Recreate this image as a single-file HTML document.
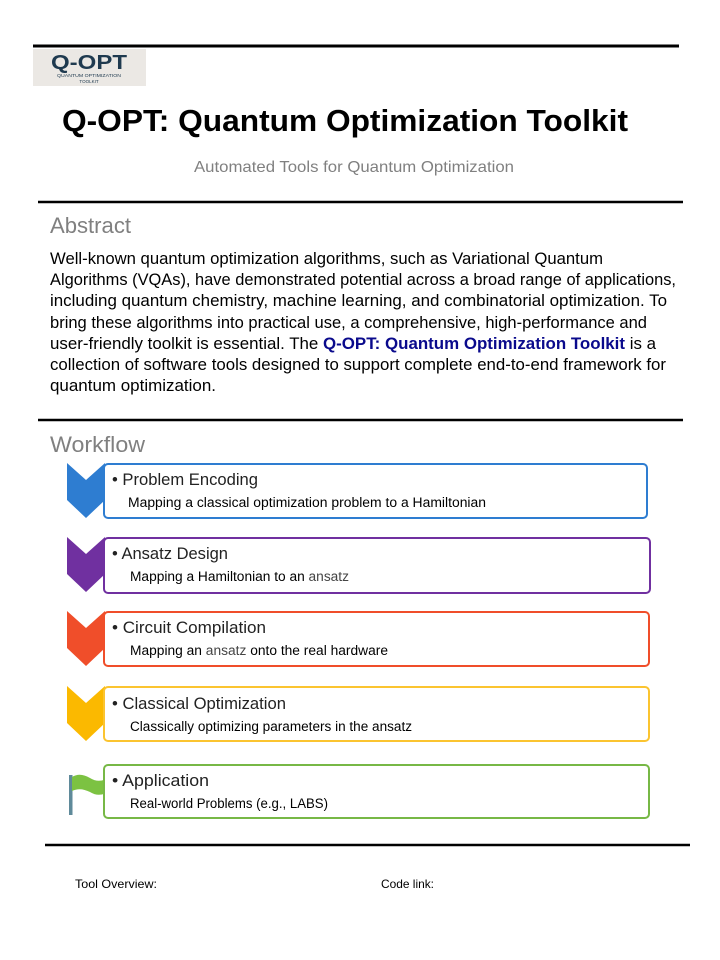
<!DOCTYPE html>
<html><head><meta charset="utf-8"><style>
html,body{margin:0;padding:0;background:#fff;}
svg{display:block;font-family:"Liberation Sans",sans-serif;}
</style></head><body>
<svg width="720" height="960" viewBox="0 0 720 960">
<rect width="720" height="960" fill="#fff"/>
<line x1="33" y1="46" x2="679" y2="46" stroke="#000" stroke-width="3"/>
<g>
<rect x="33" y="49" width="113" height="37" fill="#ebe8e4"/>
<text x="89" y="69" text-anchor="middle" font-size="20" font-weight="bold" fill="#1f3a4f" textLength="76" lengthAdjust="spacingAndGlyphs">Q-OPT</text>
<text x="89" y="77" text-anchor="middle" font-size="4.5" fill="#1f3a4f" textLength="64" lengthAdjust="spacingAndGlyphs">QUANTUM OPTIMIZATION</text>
<text x="89" y="83" text-anchor="middle" font-size="4.5" fill="#1f3a4f">TOOLKIT</text>
</g>
<text x="62" y="131" font-size="31" font-weight="bold" fill="#000" textLength="566" lengthAdjust="spacingAndGlyphs">Q-OPT: Quantum Optimization Toolkit</text>
<text x="194" y="172" font-size="16" fill="#808080" textLength="320" lengthAdjust="spacingAndGlyphs">Automated Tools for Quantum Optimization</text>
<line x1="38" y1="202" x2="683" y2="202" stroke="#000" stroke-width="2.5"/>
<text x="50" y="233" font-size="22" fill="#808080" textLength="81" lengthAdjust="spacingAndGlyphs">Abstract</text>
<g font-size="16.5" fill="#000">
<text x="50" y="264" textLength="553" lengthAdjust="spacingAndGlyphs">Well-known quantum optimization algorithms, such as Variational Quantum</text>
<text x="50" y="285" textLength="626" lengthAdjust="spacingAndGlyphs">Algorithms (VQAs), have demonstrated potential across a broad range of applications,</text>
<text x="50" y="306" textLength="617" lengthAdjust="spacingAndGlyphs">including quantum chemistry, machine learning, and combinatorial optimization. To</text>
<text x="50" y="328" textLength="597" lengthAdjust="spacingAndGlyphs">bring these algorithms into practical use, a comprehensive, high-performance and</text>
<text x="50" y="349" textLength="606" lengthAdjust="spacingAndGlyphs">user-friendly toolkit is essential. The <tspan font-weight="bold" fill="#0a0a8c">Q-OPT: Quantum Optimization Toolkit</tspan> is a</text>
<text x="50" y="370" textLength="616" lengthAdjust="spacingAndGlyphs">collection of software tools designed to support complete end-to-end framework for</text>
<text x="50" y="391" textLength="166" lengthAdjust="spacingAndGlyphs">quantum optimization.</text>
</g>
<line x1="38" y1="420" x2="683" y2="420" stroke="#000" stroke-width="2.5"/>
<text x="50" y="452" font-size="22" fill="#808080" textLength="95" lengthAdjust="spacingAndGlyphs">Workflow</text>

<g>
<polygon points="67,463 86,480 105,463 105,500 86,518 67,500" fill="#2e7dd1"/>
<rect x="104" y="464" width="543" height="54" rx="4" fill="#fff" stroke="#2e7dd1" stroke-width="2"/>
<text x="112" y="485" font-size="16.5" fill="#222" textLength="146" lengthAdjust="spacingAndGlyphs">• Problem Encoding</text>
<text x="128" y="507" font-size="13.5" fill="#000" textLength="358" lengthAdjust="spacingAndGlyphs">Mapping a classical optimization problem to a Hamiltonian</text>
</g>
<g>
<polygon points="67,537 86,554 105,537 105,574 86,592 67,574" fill="#7030a0"/>
<rect x="104" y="538" width="546" height="55" rx="4" fill="#fff" stroke="#7030a0" stroke-width="2"/>
<text x="112" y="559" font-size="16.5" fill="#222" textLength="116" lengthAdjust="spacingAndGlyphs">• Ansatz Design</text>
<text x="130" y="581" font-size="13.5" fill="#000" textLength="219" lengthAdjust="spacingAndGlyphs">Mapping a Hamiltonian to an <tspan fill="#444">ansatz</tspan></text>
</g>
<g>
<polygon points="67,611 86,628 105,611 105,648 86,666 67,648" fill="#f04e2a"/>
<rect x="104" y="612" width="545" height="54" rx="4" fill="#fff" stroke="#f04e2a" stroke-width="2"/>
<text x="112" y="633" font-size="16.5" fill="#222" textLength="154" lengthAdjust="spacingAndGlyphs">• Circuit Compilation</text>
<text x="130" y="655" font-size="13.5" fill="#000" textLength="258" lengthAdjust="spacingAndGlyphs">Mapping an <tspan fill="#444">ansatz</tspan> onto the real hardware</text>
</g>
<g>
<polygon points="67,686 86,703 105,686 105,723 86,741 67,723" fill="#fbb900"/>
<rect x="104" y="687" width="545" height="54" rx="4" fill="#fff" stroke="#fbc430" stroke-width="2"/>
<text x="112" y="709" font-size="16.5" fill="#222" textLength="174" lengthAdjust="spacingAndGlyphs">• Classical Optimization</text>
<text x="130" y="731" font-size="13.5" fill="#000" textLength="282" lengthAdjust="spacingAndGlyphs">Classically optimizing parameters in the ansatz</text>
</g>
<g>
<rect x="69" y="775" width="3.5" height="40" fill="#5f8a9a"/>
<path d="M72,777 Q80,772 90,778 Q98,783 106,779 L106,793 Q98,797 90,792 Q80,787 72,791 Z" fill="#7cc242"/>
<rect x="104" y="765" width="545" height="53" rx="4" fill="#fff" stroke="#77b846" stroke-width="2"/>
<text x="112" y="786" font-size="16.5" fill="#222" textLength="97" lengthAdjust="spacingAndGlyphs">• Application</text>
<text x="130" y="808" font-size="13.5" fill="#000" textLength="198" lengthAdjust="spacingAndGlyphs">Real-world Problems (e.g., LABS)</text>
</g>
<line x1="45" y1="845" x2="690" y2="845" stroke="#000" stroke-width="2.5"/>
<text x="75" y="888" font-size="12" fill="#000" textLength="82" lengthAdjust="spacingAndGlyphs">Tool Overview:</text>
<text x="381" y="888" font-size="12" fill="#000" textLength="53" lengthAdjust="spacingAndGlyphs">Code link:</text>
</svg>
</body></html>
